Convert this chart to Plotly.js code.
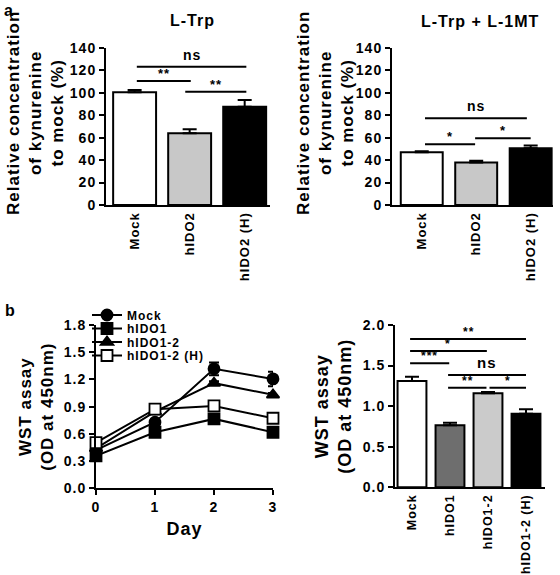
<!DOCTYPE html>
<html>
<head>
<meta charset="utf-8">
<script src="https://cdn.plot.ly/plotly-3.0.1.min.js"></script>
<style>
body{margin:0;background:#fff}
#chart{width:560px;height:575px}
text{letter-spacing:1px}
</style>
</head>
<body>
<div id="chart"></div>
<script>
// ---- data ----
const catsA = ['Mock', 'hIDO2', 'hIDO2 (H)'];
const ltrpVals = [100.5, 63.9, 87.7];
const ltrpErr = [2, 3.6, 6];
const ltrp1mtVals = [47, 38, 50.5];
const ltrp1mtErr = [1, 1.5, 2.5];
const colorsA = ['#ffffff', '#c8c8c8', '#000000'];
const yTitleA = 'Relative concentration<br>of kynurenine<br>to mock (%)';

const days = [0, 1, 2, 3];
const wstMock = [0.42, 0.728, 1.317, 1.206];
const wstMockErr = [0.02, 0.03, 0.07, 0.08];
const wstIDO1 = [0.357, 0.618, 0.765, 0.618];
const wstIDO1Err = [0.02, 0.02, 0.02, 0.02];
const wstIDO12 = [0.44, 0.845, 1.159, 1.03];
const wstIDO12Err = [0.02, 0.02, 0.02, 0.02];
const wstIDO12H = [0.503, 0.872, 0.908, 0.772];
const wstIDO12HErr = [0.02, 0.02, 0.02, 0.02];

const catsB = ['Mock', 'hIDO1', 'hIDO1-2', 'hIDO1-2 (H)'];
const wstBarVals = [1.31, 0.764, 1.158, 0.907];
const wstBarErr = [0.053, 0.03, 0.016, 0.055];
const colorsB = ['#ffffff', '#6e6e6e', '#cbcbcb', '#000000'];

// significance brackets: [from index, to index, height, label]
const sigLtrp = [[0.04, 2.03, 123.3, 'ns'], [0.04, 1.02, 110.6, '**'], [0.92, 2.03, 101, '**']];
const sigLtrp1mt = [[0.06, 1.93, 77.3, 'ns'], [0.06, 0.98, 54.1, '*'], [0.98, 2.0, 59.5, '*']];
const sigWst = [[-0.05, 3.0, 1.827, '**'], [-0.05, 1.97, 1.68, '*'], [-0.05, 0.98, 1.528, '***'],
                [0.95, 3.0, 1.384, 'ns'], [0.95, 1.96, 1.227, '**'], [2.04, 3.0, 1.227, '*']];

// ---- style ----
const FONT = 'Liberation Sans, Arial, Helvetica, sans-serif';
const BLK = '#000000';

function barTrace(cats, vals, errs, colors, xa, ya, width) {
  return {
    type: 'bar', x: cats, y: vals, xaxis: xa, yaxis: ya, width: width,
    marker: {color: colors, line: {color: BLK, width: 2}},
    error_y: {type: 'data', symmetric: false, array: errs, arrayminus: errs.map(() => 0),
              color: BLK, thickness: 2, width: 7},
    showlegend: false, hoverinfo: 'x+y'
  };
}

function lineTrace(name, vals, errs, symbol, fill, leg) {
  return {
    type: 'scatter', mode: 'lines+markers', name: name, x: days, y: vals,
    xaxis: 'x3', yaxis: 'y3', legend: leg, cliponaxis: false,
    line: {color: BLK, width: 2},
    marker: {symbol: symbol, size: 11, color: fill, line: {color: BLK, width: 1.8}},
    error_y: {type: 'data', array: errs, color: BLK, thickness: 2, width: 5}
  };
}

const data = [
  barTrace(catsA, ltrpVals, ltrpErr, colorsA, 'x', 'y', 0.78),
  barTrace(catsA, ltrp1mtVals, ltrp1mtErr, colorsA, 'x2', 'y2', 0.77),
  lineTrace('Mock', wstMock, wstMockErr, 'circle', BLK, 'legend'),
  lineTrace('hIDO1', wstIDO1, wstIDO1Err, 'square', BLK, 'legend2'),
  lineTrace('hIDO1-2', wstIDO12, wstIDO12Err, 'triangle-up', BLK, 'legend3'),
  lineTrace('hIDO1-2 (H)', wstIDO12H, wstIDO12HErr, 'square', '#ffffff', 'legend4'),
  barTrace(catsB, wstBarVals, wstBarErr, colorsB, 'x4', 'y4', 0.76)
];

const tickFont = {family: FONT, size: 14, color: BLK, weight: 'bold'};
function yAxis(domain, range, dtick, fmt, title, tsize, standoff, anchor) {
  const ax = {
    domain: domain, range: range, dtick: dtick, tick0: 0, tickformat: fmt, anchor: anchor,
    showline: true, linewidth: 2, linecolor: BLK, ticks: 'outside', ticklen: 5, tickwidth: 2,
    tickcolor: BLK, showgrid: false, zeroline: false, tickfont: tickFont, fixedrange: true
  };
  if (title) ax.title = {text: title, font: {family: FONT, size: tsize, color: BLK, weight: 'bold'}, standoff: standoff};
  return ax;
}
function xCatAxis(domain, range, anchor, fsize) {
  return {
    domain: domain, range: range, anchor: anchor, type: 'category',
    showline: true, linewidth: 2, linecolor: BLK, ticks: '', showgrid: false, zeroline: false,
    tickangle: -90, tickfont: {family: FONT, size: fsize, color: BLK, weight: 'bold'}, fixedrange: true
  };
}

const shapes = [];
const annotations = [];
function addSig(list, xref, yref, starSize, nsSize) {
  list.forEach(s => {
    shapes.push({type: 'line', xref: xref, yref: yref, x0: s[0], x1: s[1], y0: s[2], y1: s[2],
                 line: {color: BLK, width: 2}});
    const isNs = s[3] === 'ns';
    annotations.push({xref: xref, yref: yref, x: (s[0] + s[1]) / 2, y: s[2], text: s[3],
                      showarrow: false, yanchor: 'bottom', yshift: isNs ? 2 : -2,
                      font: {family: FONT, size: isNs ? nsSize : starSize, color: BLK, weight: 'bold'}});
  });
}
addSig(sigLtrp, 'x', 'y', 13, 14);
addSig(sigLtrp1mt, 'x2', 'y2', 13, 14);
addSig(sigWst, 'x4', 'y4', 12, 15);

const bold = (s) => ({family: FONT, size: s, color: BLK, weight: 'bold'});
annotations.push(
  {xref: 'paper', yref: 'paper', x: 192 / 560, y: (575 - 20) / 575, text: 'L-Trp', showarrow: false,
   xanchor: 'center', yanchor: 'middle', font: bold(16)},
  {xref: 'paper', yref: 'paper', x: 480 / 560, y: (575 - 22) / 575, text: 'L-Trp + L-1MT', showarrow: false,
   xanchor: 'center', yanchor: 'middle', font: bold(16)},
  {xref: 'paper', yref: 'paper', x: 35 / 560, y: (575 - 113) / 575, text: yTitleA, showarrow: false,
   textangle: -90, xanchor: 'center', yanchor: 'middle', align: 'center', font: bold(17)},
  {xref: 'paper', yref: 'paper', x: 325 / 560, y: (575 - 113) / 575, text: yTitleA, showarrow: false,
   textangle: -90, xanchor: 'center', yanchor: 'middle', align: 'center', font: bold(17)},
  {xref: 'paper', yref: 'paper', x: 2 / 560, y: 1, text: 'a', showarrow: false,
   xanchor: 'left', yanchor: 'top', font: bold(16)},
  {xref: 'paper', yref: 'paper', x: 3 / 560, y: (575 - 300) / 575, text: 'b', showarrow: false,
   xanchor: 'left', yanchor: 'top', font: bold(16)}
);

function legendAt(ycenter) {
  return {x: 87 / 560, y: (575 - ycenter) / 575, xanchor: 'left', yanchor: 'middle',
          bgcolor: 'rgba(0,0,0,0)', borderwidth: 0, font: bold(12)};
}

const layout = {
  width: 560, height: 575, margin: {l: 0, r: 0, t: 0, b: 0},
  paper_bgcolor: '#ffffff', plot_bgcolor: '#ffffff',
  font: {family: FONT, size: 14, color: BLK, weight: 'bold'},
  xaxis: xCatAxis([106 / 560, 270 / 560], [-0.52, 2.46], 'y', 13),
  yaxis: yAxis([370 / 575, 527 / 575], [0, 140], 20, 'd', null, 17, 0, 'x'),
  xaxis2: xCatAxis([392 / 560, 553 / 560], [-0.546, 2.41], 'y2', 13),
  yaxis2: yAxis([370 / 575, 527 / 575], [0, 140], 20, 'd', null, 17, 0, 'x2'),
  xaxis3: {domain: [96 / 560, 273 / 560], range: [0, 3], anchor: 'y3', tickvals: days,
           showline: true, linewidth: 2, linecolor: BLK, ticks: 'outside', ticklen: 5, tickwidth: 2,
           tickcolor: BLK, showgrid: false, zeroline: false, tickfont: tickFont, fixedrange: true,
           title: {text: 'Day', font: bold(18), standoff: 8}},
  yaxis3: yAxis([86.7 / 575, 250 / 575], [0, 1.8], 0.3, '.1f', 'WST assay<br>(OD at 450nm)', 17, 6, 'x3'),
  xaxis4: xCatAxis([395 / 560, 545 / 560], [-0.447, 3.5], 'y4', 12.5),
  yaxis4: yAxis([87.7 / 575, 250 / 575], [0, 2.0], 0.5, '.1f', 'WST assay<br>(OD at 450nm)', 18, 6, 'x4'),
  legend: legendAt(315),
  legend2: legendAt(328.5),
  legend3: legendAt(342),
  legend4: legendAt(355.5),
  shapes: shapes,
  annotations: annotations
};

Plotly.newPlot('chart', data, layout, {displayModeBar: false, staticPlot: true});
</script>
</body>
</html>
